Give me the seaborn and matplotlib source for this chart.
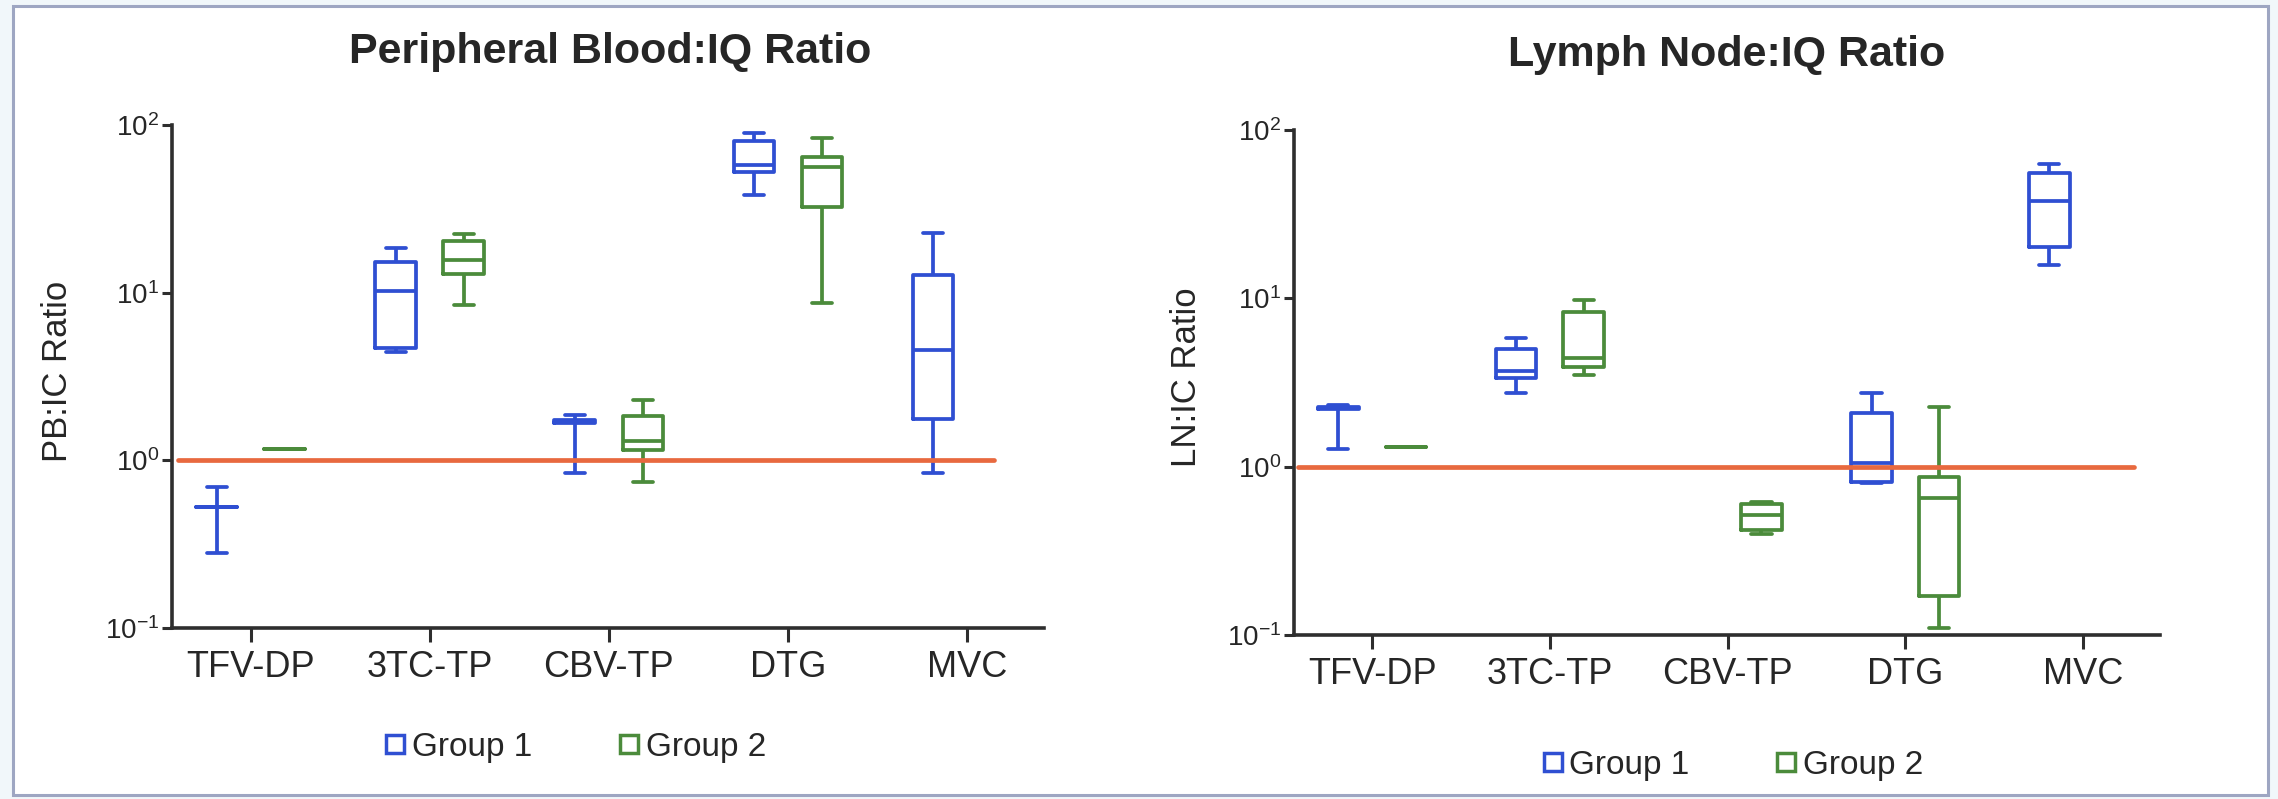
import pandas as pd
import seaborn as sns
import matplotlib.pyplot as plt
from matplotlib.lines import Line2D
from matplotlib.patches import Rectangle

categories = ["TFV-DP", "3TC-TP", "CBV-TP", "DTG", "MVC"]
groups = ["Group 1", "Group 2"]

# five-number summaries: min, q1, median, q3, max (None = no data)
pb_group1 = [
    [0.28, 0.53, 0.53, 0.53, 0.69],
    [4.43, 4.68, 10.2, 15.2, 18.5],
    [0.84, 1.68, 1.70, 1.74, 1.87],
    [38.3, 52.5, 57.7, 80.0, 89.6],
    [0.84, 1.77, 4.55, 12.8, 22.7],
]
pb_group2 = [
    [1.17, 1.17, 1.17, 1.17, 1.17],
    [8.45, 12.9, 15.7, 20.3, 22.4],
    [0.74, 1.15, 1.31, 1.84, 2.29],
    [8.7, 32.4, 56.2, 64.4, 83.6],
    None,
]
ln_group1 = [
    [1.28, 2.20, 2.22, 2.25, 2.33],
    [2.74, 3.35, 3.70, 5.00, 5.80],
    None,
    [0.80, 0.81, 1.05, 2.08, 2.74],
    [15.8, 20.2, 37.8, 55.6, 62.8],
]
ln_group2 = [
    [1.31, 1.31, 1.31, 1.31, 1.31],
    [3.50, 3.90, 4.40, 8.30, 9.80],
    [0.40, 0.42, 0.515, 0.60, 0.62],
    [0.11, 0.17, 0.65, 0.87, 2.26],
    None,
]

titles = ["Peripheral Blood:IQ Ratio", "Lymph Node:IQ Ratio"]
ylabels = ["PB:IC Ratio", "LN:IC Ratio"]

blue = "#2f4fd2"
green = "#4b8b3b"
orange = "#e8693f"
palette = {"Group 1": blue, "Group 2": green}


def to_frame(g1, g2):
    rows = []
    for grp, series in zip(groups, [g1, g2]):
        for cat, vals in zip(categories, series):
            if vals is None:
                continue
            for v in vals:
                rows.append({"drug": cat, "group": grp, "ratio": v})
    return pd.DataFrame(rows)


sns.set_style("white")
plt.rcParams["font.family"] = ["Liberation Sans", "DejaVu Sans"]
plt.rcParams["axes.unicode_minus"] = False

fig = plt.figure(figsize=(22.78, 7.99), dpi=100)
fig.patch.set_facecolor("#f1f7fa")
fig.patches.append(Rectangle((0.0057, 0.005), 0.99, 0.9875, transform=fig.transFigure,
                             facecolor="white", edgecolor="#9ea6c2", lw=2.2, zorder=-1))

ax_pos = [[0.0755, 0.214, 0.3828, 0.6295], [0.568, 0.2053, 0.380, 0.632]]
title_pos = [(0.268, 0.935), (0.758, 0.931)]
legend_pos = [(0.252, 0.065), (0.760, 0.042)]
hline_span = [(0.007, 0.943), (0.005, 0.97)]
ylabel_x = [-0.112, -0.105]

frames = [to_frame(pb_group1, pb_group2), to_frame(ln_group1, ln_group2)]

for i in range(2):
    ax = fig.add_axes(ax_pos[i])
    ax.set_facecolor("none")
    sns.boxplot(data=frames[i], x="drug", y="ratio", hue="group", order=categories,
                hue_order=groups, palette=palette, fill=False, whis=(0, 100),
                width=0.76, gap=0.4, linewidth=2.7, log_scale=True, legend=False, ax=ax)
    ax.axhline(1, xmin=hline_span[i][0], xmax=hline_span[i][1], color=orange, lw=3.4, zorder=4)

    ax.set_ylim(0.1, 100)
    ax.set_xlim(-0.44, 4.43)
    ax.minorticks_off()
    ax.set_yticks([0.1, 1, 10, 100])
    sns.despine(ax=ax)
    for side in ["left", "bottom"]:
        ax.spines[side].set_linewidth(2.6)
        ax.spines[side].set_color("#2e2e2e")
    ax.tick_params(axis="y", length=7, width=2.2, color="#2e2e2e", labelsize=20, pad=2, left=True)
    ax.tick_params(axis="x", length=10, width=2.2, color="#2e2e2e", labelsize=26, pad=6, bottom=True)
    ax.set_xlabel("")
    ax.set_ylabel(ylabels[i], fontsize=25)
    ax.yaxis.set_label_coords(ylabel_x[i], 0.51)

    fig.text(title_pos[i][0], title_pos[i][1], titles[i], fontsize=31, fontweight="bold",
             ha="center", va="center")

    handles = [Line2D([], [], marker="s", ls="none", mfc="white", mec=palette[g],
                      mew=2.5, ms=13) for g in groups]
    fig.legend(handles, groups, loc="center", bbox_to_anchor=legend_pos[i], ncol=2,
               frameon=False, fontsize=24, handletextpad=0.1, columnspacing=2.5,
               handlelength=0.8)

plt.savefig("out.png", dpi=100)
